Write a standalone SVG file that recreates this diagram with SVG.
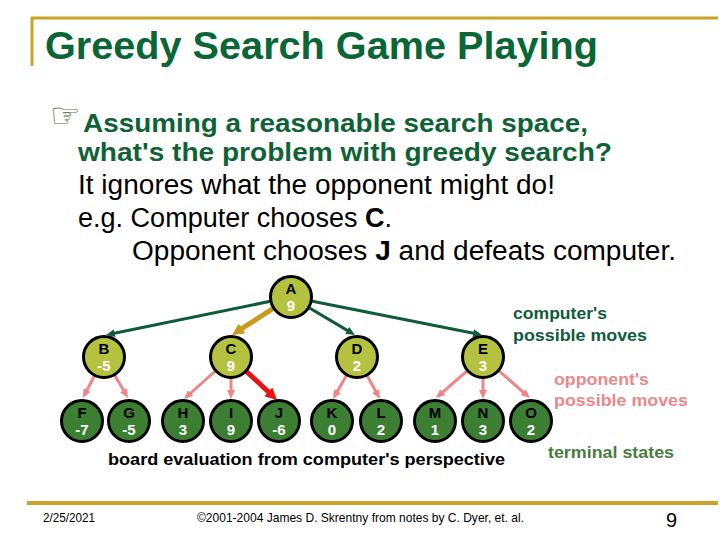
<svg xmlns="http://www.w3.org/2000/svg" width="720" height="540" viewBox="0 0 720 540">
<style>
.title{font-family:"Liberation Sans",Arial,sans-serif;font-weight:bold;fill:#0a6636;font-size:38px}
.q{font-family:"Liberation Sans",Arial,sans-serif;font-weight:bold;fill:#0f6236;font-size:25px}
.b{font-family:"Liberation Sans",Arial,sans-serif;fill:#000;font-size:27px}
.lbl{font-family:"Liberation Sans",Arial,sans-serif;font-weight:bold;font-size:17px}
.ft{font-family:"Liberation Sans",Arial,sans-serif;fill:#000;font-size:13px}
.inner{fill:#b4c240;stroke:#000;stroke-width:3}
.leaf{fill:#3c7e32;stroke:#000;stroke-width:3}
.nl{font-family:"Liberation Sans",Arial,sans-serif;font-weight:bold;font-size:15px;fill:#000;text-anchor:middle}
.nv{font-family:"Liberation Sans",Arial,sans-serif;font-weight:bold;font-size:15px;fill:#fff;text-anchor:middle}
.cm{stroke:#0e5c3a;stroke-width:3;fill:none}
.op{stroke:#f08585;stroke-width:3;fill:none}
.gd{stroke:#c99a1c;stroke-width:5;fill:none}
.rd{stroke:#ee1111;stroke-width:5;fill:none}
</style>
<defs>
<marker id="mG" markerUnits="userSpaceOnUse" markerWidth="10" markerHeight="8" refX="3" refY="4" orient="auto"><path d="M0,0 L9,4 L0,8 z" fill="#0e5c3a"/></marker>
<marker id="mP" markerUnits="userSpaceOnUse" markerWidth="10" markerHeight="8" refX="3" refY="4" orient="auto"><path d="M0,0 L9,4 L0,8 z" fill="#f08585"/></marker>
<marker id="mY" markerUnits="userSpaceOnUse" markerWidth="13" markerHeight="12" refX="4" refY="6" orient="auto"><path d="M0,0 L12,6 L0,12 z" fill="#c99a1c"/></marker>
<marker id="mR" markerUnits="userSpaceOnUse" markerWidth="13" markerHeight="12" refX="4" refY="6" orient="auto"><path d="M0,0 L12,6 L0,12 z" fill="#ee1111"/></marker>
</defs>
<rect width="720" height="540" fill="#fff"/>
<!-- title bar -->
<line x1="31" y1="18" x2="718" y2="18" stroke="#c9a227" stroke-width="3"/>
<line x1="32" y1="17" x2="32" y2="66" stroke="#c9a227" stroke-width="3"/>
<text class="title" x="45" y="59" textLength="553" lengthAdjust="spacingAndGlyphs">Greedy Search Game Playing</text>
<!-- body -->
<text x="50" y="127" font-family="DejaVu Sans,sans-serif" font-size="34" fill="#4d6e3a">☞</text>
<text class="q" x="83" y="132" textLength="505" lengthAdjust="spacingAndGlyphs">Assuming a reasonable search space,</text>
<text class="q" x="78" y="161" textLength="534" lengthAdjust="spacingAndGlyphs">what's the problem with greedy search?</text>
<text class="b" x="78" y="194" textLength="477" lengthAdjust="spacingAndGlyphs">It ignores what the opponent might do!</text>
<text class="b" x="78" y="227" textLength="314" lengthAdjust="spacingAndGlyphs">e.g. Computer chooses <tspan font-weight="bold">C</tspan>.</text>
<text class="b" x="132" y="260" textLength="544" lengthAdjust="spacingAndGlyphs">Opponent chooses <tspan font-weight="bold">J</tspan> and defeats computer.</text>
<!-- connectors -->
<g id="connectors">
<line class="cm" x1="291" y1="297" x2="111.9" y2="333.8" marker-end="url(#mG)"/>
<line class="cm" x1="291" y1="297" x2="349.8" y2="331.9" marker-end="url(#mG)"/>
<line class="cm" x1="291" y1="297" x2="476.1" y2="333.8" marker-end="url(#mG)"/>
<line class="gd" x1="291" y1="297" x2="238.7" y2="330.7" marker-end="url(#mY)"/>
<line class="op" x1="104" y1="357" x2="85.7" y2="392.7" marker-end="url(#mP)"/>
<line class="op" x1="104" y1="357" x2="125" y2="392.8" marker-end="url(#mP)"/>
<line class="op" x1="231" y1="357" x2="188.5" y2="395" marker-end="url(#mP)"/>
<line class="op" x1="231" y1="357" x2="231" y2="393" marker-end="url(#mP)"/>
<line class="rd" x1="231" y1="357" x2="271.2" y2="394.5" marker-end="url(#mR)"/>
<line class="op" x1="357" y1="357" x2="336" y2="393.8" marker-end="url(#mP)"/>
<line class="op" x1="357" y1="357" x2="377.1" y2="393.7" marker-end="url(#mP)"/>
<line class="op" x1="483" y1="357" x2="440.5" y2="394.1" marker-end="url(#mP)"/>
<line class="op" x1="483" y1="357" x2="483" y2="393" marker-end="url(#mP)"/>
<line class="op" x1="483" y1="357" x2="525.5" y2="394.1" marker-end="url(#mP)"/>
</g>
<!-- nodes -->
<g id="nodeA"><circle class="inner" cx="291" cy="297" r="20.5"/><text class="nl" x="291" y="294">A</text><text class="nv" x="291" y="311">9</text></g>
<g id="nodeB"><circle class="inner" cx="104" cy="357" r="20.5"/><text class="nl" x="104" y="354">B</text><text class="nv" x="104" y="371">-5</text></g>
<g id="nodeC"><circle class="inner" cx="231" cy="357" r="20.5"/><text class="nl" x="231" y="354">C</text><text class="nv" x="231" y="371">9</text></g>
<g id="nodeD"><circle class="inner" cx="357" cy="357" r="20.5"/><text class="nl" x="357" y="354">D</text><text class="nv" x="357" y="371">2</text></g>
<g id="nodeE"><circle class="inner" cx="483" cy="357" r="20.5"/><text class="nl" x="483" y="354">E</text><text class="nv" x="483" y="371">3</text></g>
<g id="nodeF"><circle class="leaf" cx="82" cy="421" r="20.5"/><text class="nl" x="82" y="418">F</text><text class="nv" x="82" y="435">-7</text></g>
<g id="nodeG"><circle class="leaf" cx="129" cy="421" r="20.5"/><text class="nl" x="129" y="418">G</text><text class="nv" x="129" y="435">-5</text></g>
<g id="nodeH"><circle class="leaf" cx="183" cy="421" r="20.5"/><text class="nl" x="183" y="418">H</text><text class="nv" x="183" y="435">3</text></g>
<g id="nodeI"><circle class="leaf" cx="231" cy="421" r="20.5"/><text class="nl" x="231" y="418">I</text><text class="nv" x="231" y="435">9</text></g>
<g id="nodeJ"><circle class="leaf" cx="279" cy="421" r="20.5"/><text class="nl" x="279" y="418">J</text><text class="nv" x="279" y="435">-6</text></g>
<g id="nodeK"><circle class="leaf" cx="332" cy="421" r="20.5"/><text class="nl" x="332" y="418">K</text><text class="nv" x="332" y="435">0</text></g>
<g id="nodeL"><circle class="leaf" cx="381" cy="421" r="20.5"/><text class="nl" x="381" y="418">L</text><text class="nv" x="381" y="435">2</text></g>
<g id="nodeM"><circle class="leaf" cx="435" cy="421" r="20.5"/><text class="nl" x="435" y="418">M</text><text class="nv" x="435" y="435">1</text></g>
<g id="nodeN"><circle class="leaf" cx="483" cy="421" r="20.5"/><text class="nl" x="483" y="418">N</text><text class="nv" x="483" y="435">3</text></g>
<g id="nodeO"><circle class="leaf" cx="531" cy="421" r="20.5"/><text class="nl" x="531" y="418">O</text><text class="nv" x="531" y="435">2</text></g>
<!-- legend labels -->
<text class="lbl" fill="#0e5c3a" x="513" y="319" textLength="94" lengthAdjust="spacingAndGlyphs">computer's</text>
<text class="lbl" fill="#0e5c3a" x="513" y="341" textLength="134" lengthAdjust="spacingAndGlyphs">possible moves</text>
<text class="lbl" fill="#e88a8a" x="554" y="385" textLength="95" lengthAdjust="spacingAndGlyphs">opponent's</text>
<text class="lbl" fill="#e88a8a" x="554" y="406" textLength="134" lengthAdjust="spacingAndGlyphs">possible moves</text>
<text class="lbl" fill="#4a7c3c" x="548" y="458" textLength="126" lengthAdjust="spacingAndGlyphs">terminal states</text>
<text class="lbl" fill="#000" x="108" y="465" textLength="397" lengthAdjust="spacingAndGlyphs">board evaluation from computer's perspective</text>
<!-- footer -->
<line x1="27" y1="503" x2="718" y2="503" stroke="#c9a227" stroke-width="4"/>
<text class="ft" x="43" y="522" textLength="52" lengthAdjust="spacingAndGlyphs">2/25/2021</text>
<text class="ft" x="197" y="522" textLength="327" lengthAdjust="spacingAndGlyphs">©2001-2004 James D. Skrentny from notes by C. Dyer, et. al.</text>
<text class="ft" x="666" y="527" style="font-size:20px">9</text>
</svg>
